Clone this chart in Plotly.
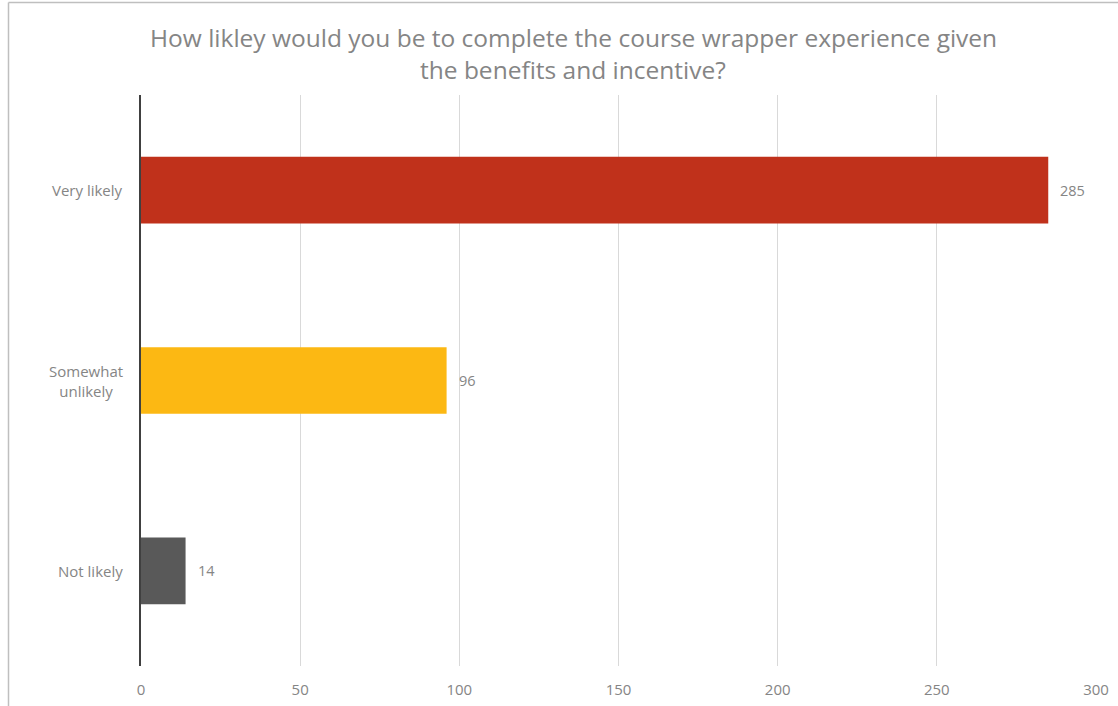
import plotly.graph_objects as go

categories = ["Very likely", "Somewhat<br>unlikely", "Not likely"]
counts = [285, 96, 14]
bar_colors = ["#C0311B", "#FCB813", "#595959"]
x_ticks = [0, 50, 100, 150, 200, 250, 300]
title_lines = [
    "How likley would you be to complete the course wrapper experience given",
    "the benefits and incentive?",
]

W, H = 1118, 706
L, R, T, B = 141, 22, 95, 40
pw, ph = W - L - R, H - T - B

def px_x(x):
    return (x - L) / pw

def px_y(y):
    return (H - B - y) / ph

FONT = "Open Sans"
TXT = "#858585"

fig = go.Figure(
    go.Bar(
        x=counts,
        y=categories,
        orientation="h",
        marker=dict(color=bar_colors, line=dict(width=0)),
        hoverinfo="skip",
    )
)

annotations = []
# value labels next to each bar
for c, v in zip(categories, counts):
    annotations.append(dict(
        x=v, y=c, xref="x", yref="y", text=str(v), showarrow=False,
        xanchor="left", xshift=10, font=dict(family=FONT, size=14.5, color=TXT),
    ))
# category labels, centred multi-line text
for c in categories:
    annotations.append(dict(
        x=0, y=c, xref="paper", yref="y", text=c, showarrow=False,
        xanchor="right", xshift=-16, align="center",
        font=dict(family=FONT, size=15, color=TXT),
    ))
# two-line title
for i, line in enumerate(title_lines):
    annotations.append(dict(
        x=px_x(573), y=px_y(37 + 33 * i), xref="paper", yref="paper",
        text=line, showarrow=False, xanchor="center", yanchor="middle",
        font=dict(family=FONT, size=24.5, color="#858585"),
    ))

fig.update_layout(
    width=W, height=H,
    margin=dict(l=L, r=R, t=T, b=B, autoexpand=False),
    paper_bgcolor="white", plot_bgcolor="white",
    showlegend=False,
    bargap=0.65,
    annotations=annotations,
    shapes=[
        dict(type="line", xref="paper", yref="paper",
             x0=px_x(8.5), x1=px_x(8.5), y0=px_y(2.5), y1=px_y(710),
             line=dict(color="#bfbfbf", width=1.5)),
        dict(type="line", xref="paper", yref="paper",
             x0=px_x(8.5), x1=px_x(1120), y0=px_y(2.5), y1=px_y(2.5),
             line=dict(color="#bfbfbf", width=1.5)),
    ],
)
fig.update_xaxes(
    range=[0, 300], tickvals=x_ticks, showgrid=True, gridcolor="#d9d9d9", gridwidth=1,
    zeroline=False, showline=False, ticks="", ticklabelstandoff=13, automargin=False,
    tickfont=dict(family=FONT, size=15, color=TXT),
)
fig.update_yaxes(
    categoryorder="array", categoryarray=categories[::-1],
    showticklabels=False, showgrid=False, zeroline=False, automargin=False,
    showline=True, linecolor="#404040", linewidth=1.5, ticks="",
)

fig.write_html("out.html")
